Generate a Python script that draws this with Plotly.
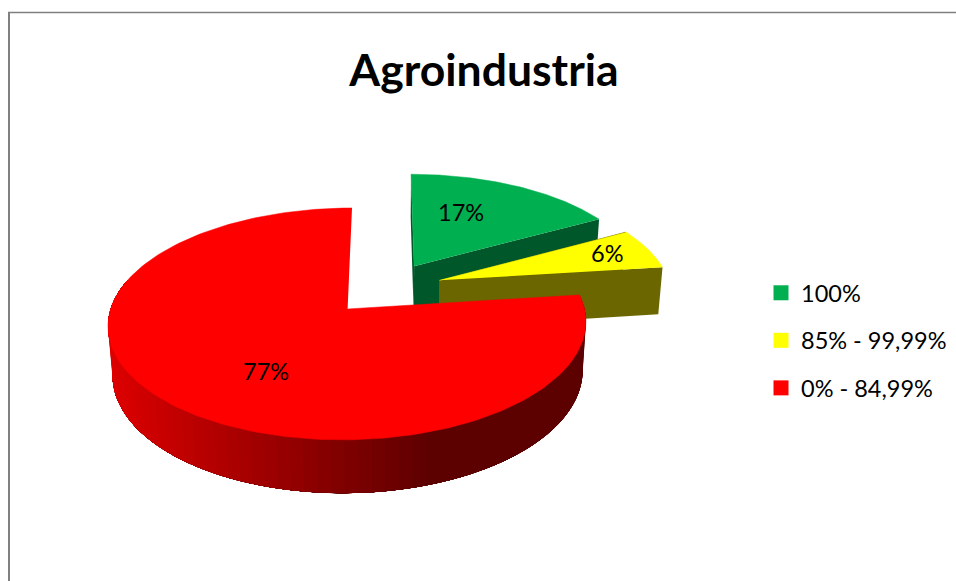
import numpy as np
import plotly.graph_objects as go

# data
categories = ["100%", "85% - 99,99%", "0% - 84,99%"]
shares = [17, 6, 77]
top_colors = ["#00B050", "#FFFF00", "#FF0000"]
side_colors = ["#00582A", "#6B6600", "#5C0000"]

# camera for the 3d look, everything is in screen pixels
X0, Y0 = 386.0, 288.5
D = 7.0
F = 1620
TILT = np.arcsin(0.47)
EXPLODE = 0.245
HEIGHT = 0.238
FONT = "Lato"
WIDTH, HEIGHT_PX = 956, 581


def project(u, v, z):
    depth = D + v * np.cos(TILT) - z * np.sin(TILT)
    x = X0 + F * u / depth
    y = Y0 - F * (v * np.sin(TILT) + z * np.cos(TILT)) / depth
    return x, y


def arc(ox, oy, start, end, z, n=120):
    t = np.radians(np.linspace(start, end, n))
    return project(ox + np.sin(t), oy + np.cos(t), z)


def add_poly(fig, x, y, color, line_width=0):
    fig.add_trace(go.Scatter(
        x=list(x), y=list(y), mode="lines", fill="toself", fillcolor=color,
        line=dict(color=color, width=line_width), hoverinfo="skip", showlegend=False,
    ))


def add_edge_face(fig, ox, oy, angle, color):
    """Flat cut face from the slice apex out to the rim."""
    t = np.radians(angle)
    us = np.array([ox, ox + np.sin(t), ox + np.sin(t), ox])
    vs = np.array([oy, oy + np.cos(t), oy + np.cos(t), oy])
    zs = np.array([0, 0, -HEIGHT, -HEIGHT])
    x, y = project(us, vs, zs)
    add_poly(fig, x, y, color)


def red_shade(x):
    # left side of the rim is lit, fades to dark red going right
    k = min(max((x - 113) / (440 - 113), 0), 1)
    return "rgb(%d,0,0)" % round(220 + (92 - 220) * k)


fig = go.Figure()

edges = np.cumsum([0] + shares) * 3.6
for i in range(len(shares)):
    start, end = edges[i], edges[i + 1]
    mid = np.radians((start + end) / 2)
    ox, oy = EXPLODE * np.sin(mid), EXPLODE * np.cos(mid)

    if i < 2:
        # back slices only show their flat cut faces
        add_edge_face(fig, ox, oy, start, side_colors[i])
        add_edge_face(fig, ox, oy, end, side_colors[i])
    else:
        # rim as overlapping bands so it can carry the gradient without seams
        stops = np.linspace(start, 285, 70)
        for a in stops[:-1]:
            x_up, y_up = arc(ox, oy, a, 285, 0, n=60)
            x_low, y_low = arc(ox, oy, a, 285, -HEIGHT, n=60)
            add_poly(fig, np.r_[x_up, x_low[::-1]], np.r_[y_up, y_low[::-1]], red_shade(x_up[0]))

    x_top, y_top = arc(ox, oy, start, end, 0, n=200)
    ax, ay = project(ox, oy, 0)
    add_poly(fig, np.r_[ax, x_top], np.r_[ay, y_top], top_colors[i], line_width=0.5)

# legend entries
for name, color in zip(categories, top_colors):
    fig.add_trace(go.Scatter(
        x=[None], y=[None], mode="markers", name=name, legendgroup=name,
        marker=dict(symbol="square", size=15, color=color),
    ))

label_pos = [(461, 212), (607, 253), (266, 371)]
for share, (lx, ly) in zip(shares, label_pos):
    fig.add_annotation(x=lx, y=ly, text=f"{share}%", showarrow=False,
                       font=dict(family=FONT, size=23.5, color="black"))

fig.update_layout(
    width=WIDTH, height=HEIGHT_PX,
    margin=dict(l=0, r=0, t=0, b=0),
    paper_bgcolor="white", plot_bgcolor="white",
    title=dict(text="<b>Agroindustria</b>", x=484 / WIDTH, xanchor="center",
               y=1 - 70 / HEIGHT_PX, yanchor="middle",
               font=dict(family=FONT, size=44.5, color="black")),
    xaxis=dict(range=[0, WIDTH], visible=False, fixedrange=True),
    yaxis=dict(range=[HEIGHT_PX, 0], visible=False, fixedrange=True),
    legend=dict(x=761 / WIDTH, y=1 - 271 / HEIGHT_PX, xanchor="left", yanchor="top",
                font=dict(family=FONT, size=23.5, color="black"),
                tracegroupgap=14, itemwidth=30, bgcolor="rgba(0,0,0,0)"),
    shapes=[
        dict(type="line", x0=9, x1=9, y0=12, y1=581, line=dict(color="#808080", width=2)),
        dict(type="line", x0=8, x1=956, y0=12.5, y1=12.5, line=dict(color="#808080", width=1.5)),
    ],
)

# drop the browser's default body margin so the figure fills the window
fig.write_html("out.html", config={"displayModeBar": False},
               post_script="document.body.style.margin='0';")
